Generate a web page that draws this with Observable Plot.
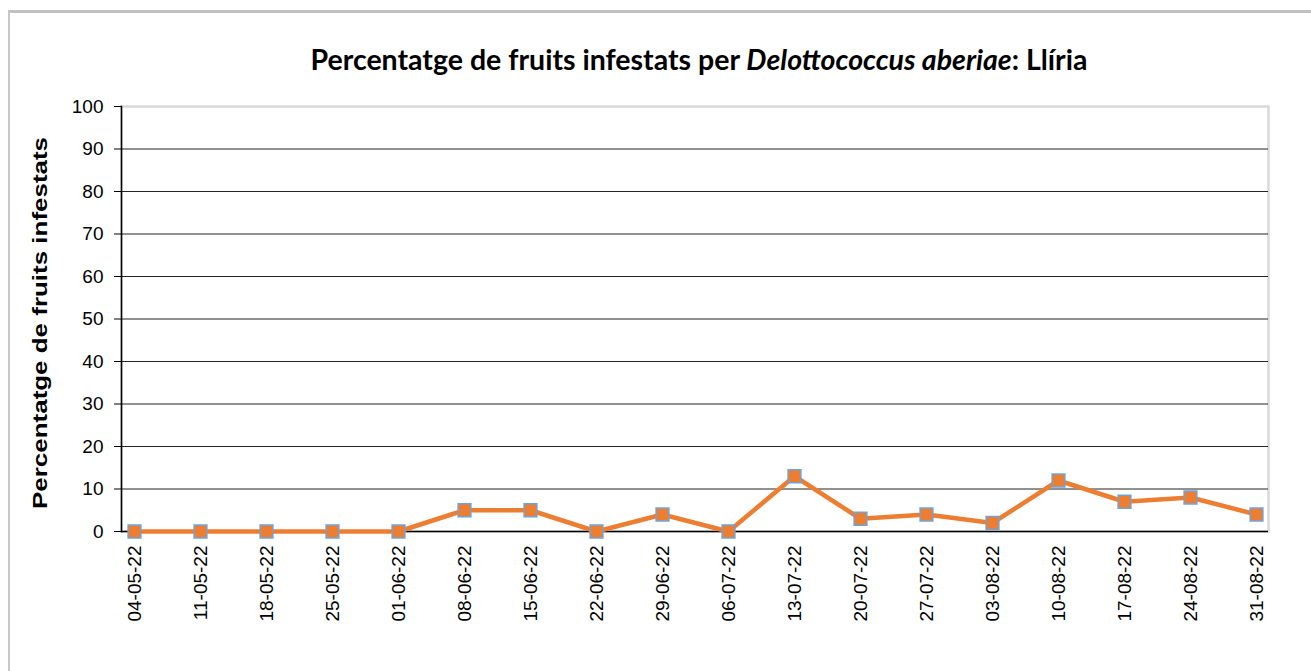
<!DOCTYPE html>
<html>
<head>
<meta charset="utf-8">
<script src="https://cdn.jsdelivr.net/npm/d3@7"></script>
<script src="https://cdn.jsdelivr.net/npm/@observablehq/plot@0.6"></script>
<style>
  html, body { margin: 0; padding: 0; background: #fff; }
  #wrap { position: relative; width: 1311px; height: 671px; overflow: hidden; background: #fff; }
  #frame { position: absolute; left: 8px; top: 10px; right: -10px; bottom: -10px; border-top: 3px solid #c0c0c0; border-left: 2px solid #c8c8c8; }
  #title { position: absolute; left: -1px; top: 0; width: 1400px; height: 80px; text-align: center; box-sizing: border-box; padding-top: 45px;
           font-family: Lato, "Open Sans", sans-serif; font-weight: bold; font-size: 28.5px; color: #000; line-height: 1; }
  #chart { position: absolute; left: 0; top: 80px; }
</style>
</head>
<body>
<div id="wrap">
  <div id="frame"></div>
  <div id="title">Percentatge de fruits infestats per <i>Delottococcus aberiae</i>: Llíria</div>
  <div id="chart"></div>
</div>
<script>
const dates = ["04-05-22","11-05-22","18-05-22","25-05-22","01-06-22","08-06-22","15-06-22","22-06-22","29-06-22","06-07-22","13-07-22","20-07-22","27-07-22","03-08-22","10-08-22","17-08-22","24-08-22","31-08-22"];
const values = [0,0,0,0,0,5,5,0,4,0,13,3,4,2,12,7,8,4];
const yTicks = [0,10,20,30,40,50,60,70,80,90,100];
const yLabel = "Percentatge de fruits infestats";

const data = dates.map((d, i) => ({date: d, value: values[i]}));

const chart = Plot.plot({
  width: 1311,
  height: 591,
  marginTop: 26,
  marginBottom: 140,
  marginLeft: 121,
  marginRight: 43,
  style: {fontFamily: "'Liberation Sans', Arial, sans-serif", background: "transparent"},
  x: {type: "point", domain: dates, insetLeft: 6.5, insetRight: 6.5, padding: 0},
  y: {domain: [0, 100]},
  marks: [
    Plot.frame({stroke: "#d9d9d9", strokeWidth: 2.5}),
    Plot.gridY(yTicks.filter(t => t > 0 && t < 100), {stroke: "#222", strokeOpacity: 1, strokeWidth: 1}),
    Plot.ruleY([0], {stroke: "#000", strokeWidth: 1.5}),
    Plot.frame({anchor: "left", stroke: "#000", strokeWidth: 1.5}),
    Plot.axisY(yTicks, {tickSize: 7, tickPadding: 11, fontSize: 19, label: null, stroke: "#000", color: "#000"}),
    Plot.axisX({tickSize: 0, tickPadding: 14, tickRotate: -90, fontSize: 19, label: null, color: "#000"}),
    Plot.text([yLabel], {frameAnchor: "left", textAnchor: "middle", rotate: -90, dx: -81, dy: 4, fontSize: 20, fontWeight: "bold", fill: "#000", className: "ytitle"}),
    Plot.line(data, {x: "date", y: "value", stroke: "#ED7D31", strokeWidth: 4.5}),
    Plot.dot(data, {x: "date", y: "value", symbol: "square", r: 7.2, fill: "#ED7D31", stroke: "#6FA3D8", strokeWidth: 1.5})
  ]
});
document.getElementById("chart").appendChild(chart);
// stretch the rotated axis title to the reference's length
d3.select(chart).selectAll("g.ytitle text")
  .attr("textLength", 372)
  .attr("lengthAdjust", "spacingAndGlyphs");
</script>
</body>
</html>
